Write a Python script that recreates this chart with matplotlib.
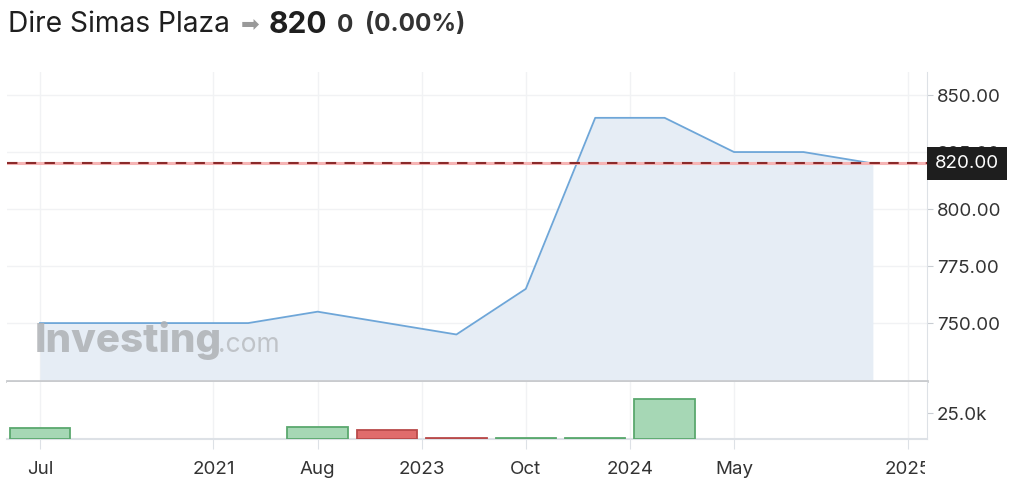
import matplotlib
matplotlib.use("Agg")
import matplotlib.pyplot as plt
from matplotlib.transforms import Bbox, TransformedBbox
import numpy as np

plt.rcParams["font.family"] = ["Inter", "DejaVu Sans"]

# data (index based x axis)
price = [750, 750, 750, 750, 755, 750, 745, 765, 840, 840, 825, 825, 820]
volume = [10500, 0, 0, 0, 12000, 9000, 1000, 1000, 1000, 38500, 0, 0, 0]
vol_up = [True, True, True, True, True, False, False, True, True, True, True, True, True]
last_price = 820
tick_pos = [0, 2.5, 4, 5.5, 7, 8.5, 10, 12.5]
tick_labels = ["Jul", "2021", "Aug", "2023", "Oct", "2024", "May", "2025"]
price_ticks = [750, 775, 800, 825, 850]

x = np.arange(len(price))
W, H = 1024, 498
fig = plt.figure(figsize=(W / 100, H / 100), dpi=100)

ax = fig.add_axes([7 / W, 1 - 381 / H, 920 / W, 309 / H])
axv = fig.add_axes([7 / W, 1 - 439 / H, 920 / W, 57 / H], sharex=ax)

xlim = (-0.475, 12.78)
grid_c = "#f1f2f4"
txt_c = "#333333"
lab_size = 13.5

# price panel
ax.fill_between(x, price, 724.6, color="#e6edf5", lw=0, zorder=2)
ax.plot(x, price, color="#6ea6d8", lw=1.3, zorder=3)
ax.axhline(last_price, color="#f6b4b4", lw=2.2, zorder=4)
ax.axhline(last_price, color="#8b2a2a", lw=1.5, dashes=(5, 4), zorder=5)
ax.set_xlim(*xlim)
ax.set_ylim(724.6, 860.1)
ax.yaxis.tick_right()
ax.set_yticks(price_ticks)
ax.set_yticklabels([f"{v:.2f}" for v in price_ticks])
ax.tick_params(axis="y", length=4, color="#c8ccd2", labelsize=lab_size, labelcolor=txt_c, pad=3)
ax.tick_params(axis="x", length=0, labelbottom=False)
ax.set_xticks(tick_pos)
ax.grid(True, color=grid_c, lw=1, zorder=0)
for s in ["top", "left"]:
    ax.spines[s].set_visible(False)
ax.spines["right"].set_color("#dde1e6")
ax.spines["bottom"].set_color("#c9cbce")
ax.spines["bottom"].set_linewidth(2)

ax.annotate(f"{last_price:.2f}", xy=(1.0, last_price), xycoords=ax.get_yaxis_transform(),
            xytext=(5.8, 0), textcoords="offset points",
            ha="left", va="center", color="white", fontsize=lab_size,
            bbox=dict(boxstyle="square,pad=0.42", fc="#1e1e1e", ec="none"),
            zorder=10, annotation_clip=False)

# watermark
ax.text(0.03, 0.094, "Investing", transform=ax.transAxes, fontsize=29, fontweight="heavy",
        color="#aeb1b5", alpha=0.85, ha="left", va="baseline", zorder=6)
ax.text(0.229, 0.094, ".com", transform=ax.transAxes, fontsize=19,
        color="#b9bcc0", alpha=0.85, ha="left", va="baseline", zorder=6)

# volume panel
vol = np.array(volume)
mask = vol > 0
face = np.where(vol_up, "#a6d7b5", "#e06c6c")
edge = np.where(vol_up, "#5aa86e", "#b94a4a")
axv.bar(x[mask], vol[mask], width=0.87, color=face[mask], edgecolor=edge[mask], lw=1.3, zorder=3)
axv.set_ylim(0, 55400)
axv.yaxis.tick_right()
axv.set_yticks([25000])
axv.set_yticklabels(["25.0k"])
axv.tick_params(axis="y", length=4, color="#c8ccd2", labelsize=lab_size, labelcolor=txt_c, pad=3)
axv.set_xticks(tick_pos)
axv.set_xticklabels(tick_labels)
axv.tick_params(axis="x", length=7, color="#dde1e6", labelsize=lab_size, labelcolor=txt_c, pad=9)
axv.grid(True, axis="x", color=grid_c, lw=1, zorder=0)
for s in ["top", "left"]:
    axv.spines[s].set_visible(False)
axv.spines["right"].set_color("#dde1e6")
axv.spines["bottom"].set_color("#dde1e6")
axv.spines["bottom"].set_linewidth(1.5)

# clip the last x label at the axis edge like the reference
clip_box = TransformedBbox(Bbox([[0, 0], [925 / W, 1]]), fig.transFigure)
for lbl in axv.get_xticklabels():
    lbl.set_clip_box(clip_box)
    lbl.set_clip_on(True)

# header
yh = 1 - 25 / H
fig.text(8 / W, yh, "Dire Simas Plaza", fontsize=20.3, color="#1f1f1f", va="center", ha="left")
fig.text(241 / W, yh, "\u27a1", fontsize=16, color="#999999", va="center", ha="left",
         family=["DejaVu Sans"])
fig.text(269 / W, yh, "820", fontsize=21.5, fontweight="bold", color="#1f1f1f", va="center", ha="left")
fig.text(337 / W, yh, "0", fontsize=17.5, fontweight="bold", color=txt_c, va="center", ha="left")
fig.text(365 / W, yh, "(0.00%)", fontsize=17.5, fontweight="bold", color=txt_c, va="center", ha="left")

fig.savefig("out.png", dpi=100)
